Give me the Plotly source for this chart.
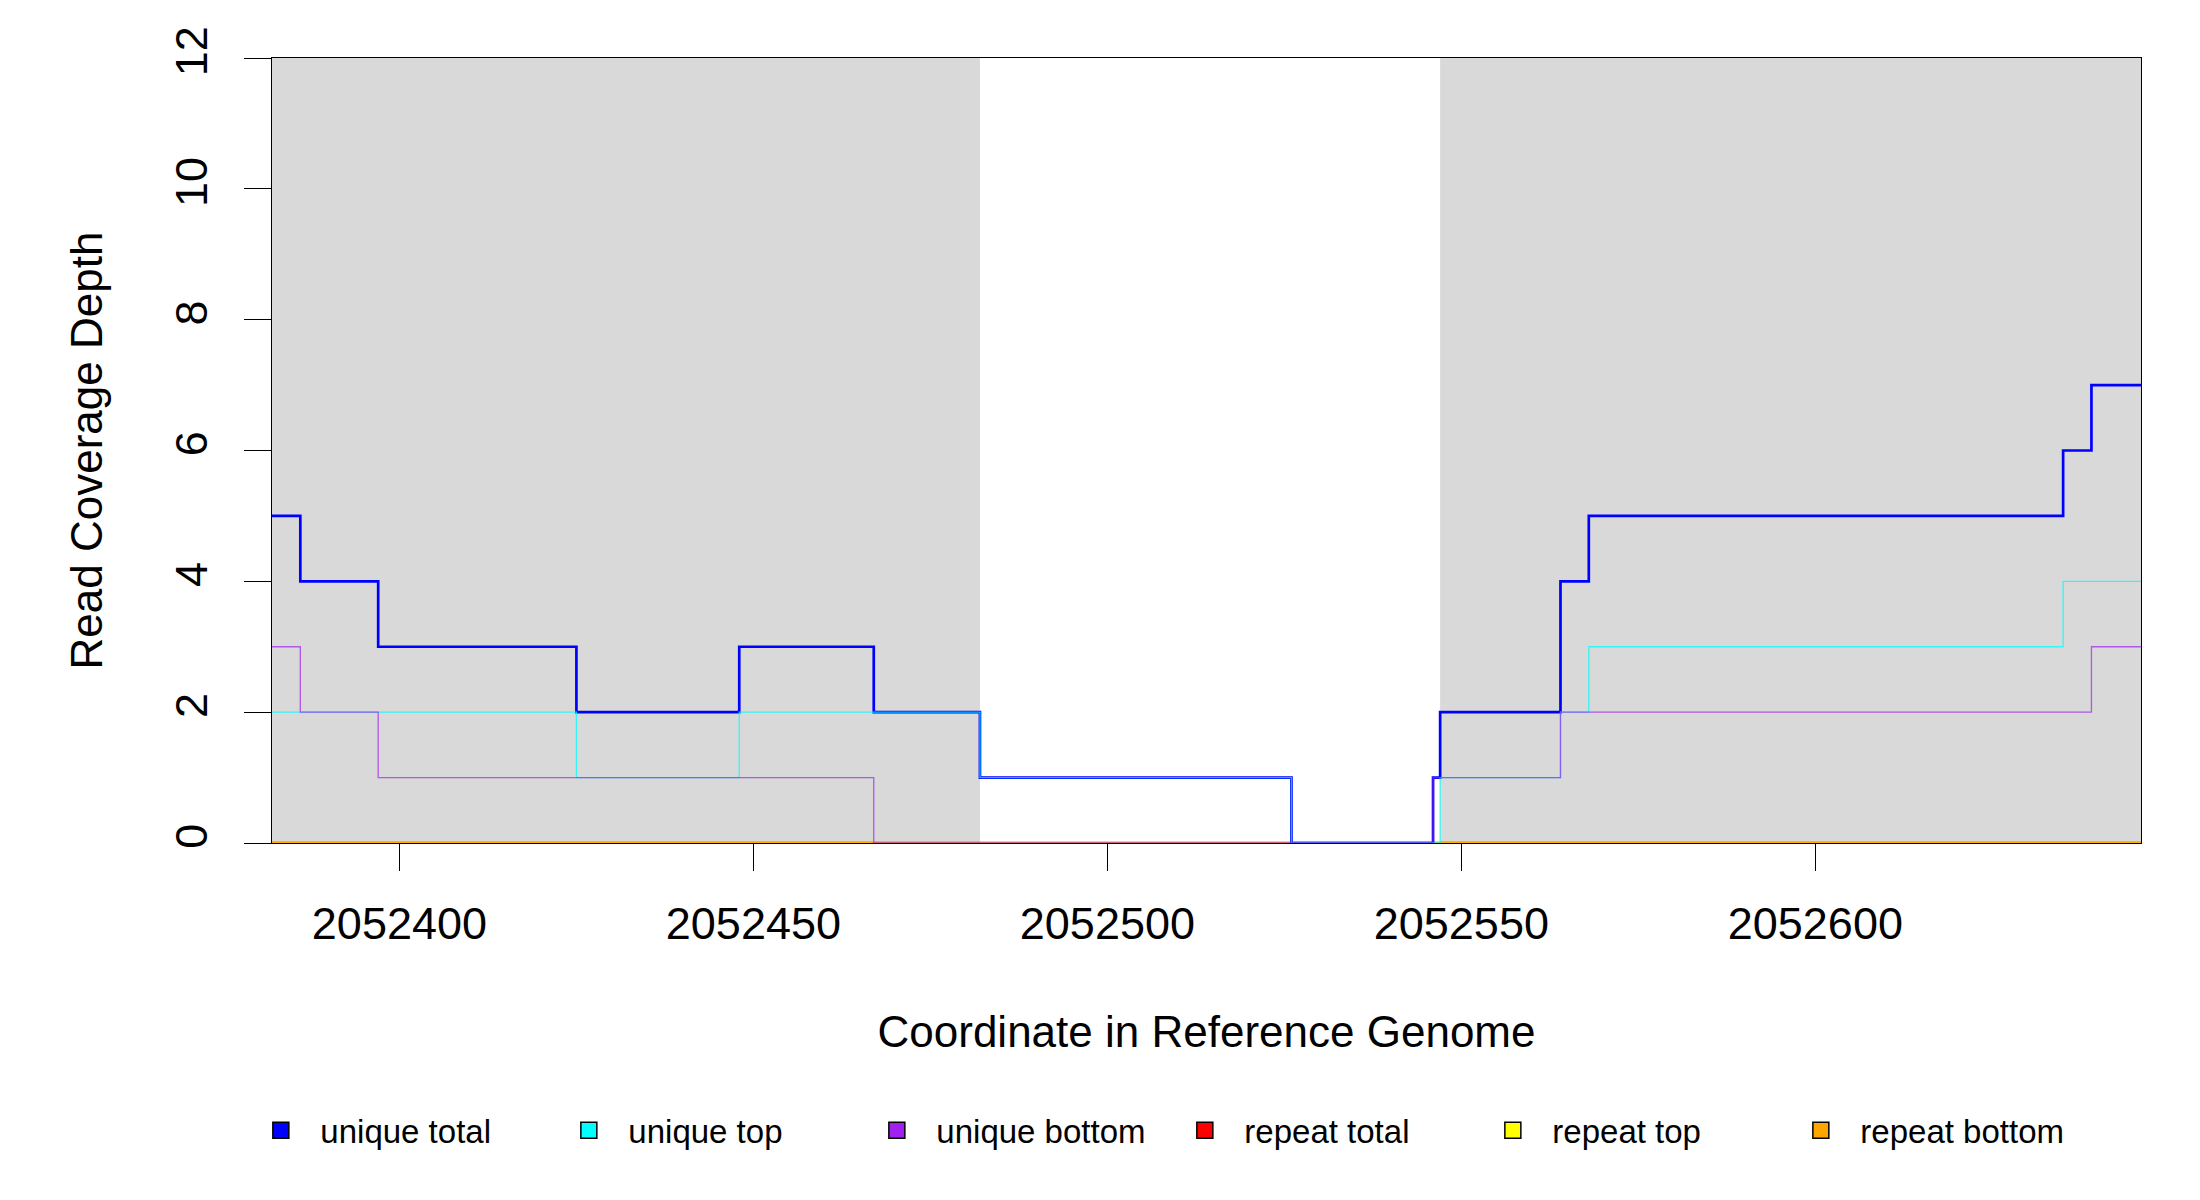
import plotly.graph_objects as go

# step breakpoints (coordinate where a new depth starts) and depth values
x_min, x_max = 2052382, 2052646

unique_total_x = [2052382, 2052386, 2052397, 2052425, 2052448, 2052467, 2052482,
                  2052526, 2052546, 2052547, 2052564, 2052568, 2052635, 2052639, 2052646]
unique_total_y = [5, 4, 3, 2, 3, 2, 1, 0, 1, 2, 4, 5, 6, 7, 7]

unique_top_x = [2052382, 2052425, 2052448, 2052482, 2052526, 2052547, 2052564,
                2052568, 2052635, 2052646]
unique_top_y = [2, 1, 2, 1, 0, 1, 2, 3, 4, 4]

unique_bottom_x = [2052382, 2052386, 2052397, 2052467, 2052546, 2052564, 2052639, 2052646]
unique_bottom_y = [3, 2, 1, 0, 1, 2, 3, 3]

repeat_x = [2052382, 2052646]
repeat_total_y = [0, 0]
repeat_top_y = [0, 0]
repeat_bottom_y = [0, 0]

# shaded (aligned) regions
region_start = [2052382, 2052547]
region_end = [2052482, 2052646]

x_ticks = [2052400, 2052450, 2052500, 2052550, 2052600]
y_ticks = [0, 2, 4, 6, 8, 10, 12]

names = ["unique total", "unique top", "unique bottom",
         "repeat total", "repeat top", "repeat bottom"]
colors = ["#0000FF", "#00FFFF", "#A020F0", "#FF0000", "#FFFF00", "#FFA500"]

FONT = "Liberation Sans, Arial, sans-serif"

fig = go.Figure()

for s, e in zip(region_start, region_end):
    fig.add_shape(type="rect", xref="x", yref="y", x0=s, x1=e, y0=0, y1=12,
                  fillcolor="#D9D9D9", line_width=0, layer="below")

# repeat series first, unique series drawn over them
series = [
    (repeat_x, repeat_total_y, colors[3], 2.7, 1.0),
    (repeat_x, repeat_top_y, colors[4], 1.3, 1.0),
    (repeat_x, repeat_bottom_y, colors[5], 1.3, 1.0),
    (unique_total_x, unique_total_y, colors[0], 2.7, 1.0),
    (unique_top_x, unique_top_y, colors[1], 1.3, 0.75),
    (unique_bottom_x, unique_bottom_y, colors[2], 1.3, 0.7),
]
for xs, ys, c, w, op in series:
    fig.add_trace(go.Scatter(x=xs, y=ys, mode="lines", line_shape="hv",
                             line=dict(color=c, width=w), opacity=op,
                             showlegend=False, hoverinfo="skip"))

# legend entries as filled squares
for n, c in zip(names, colors):
    fig.add_trace(go.Scatter(x=[None], y=[None], mode="markers", name=n,
                             marker=dict(symbol="square", size=16, color=c,
                                         line=dict(color="black", width=1.5))))

fig.update_layout(
    width=2200, height=1200,
    margin=dict(l=264, r=67, t=50, b=365),
    paper_bgcolor="white", plot_bgcolor="white",
    font=dict(family=FONT, size=45, color="black"),
    legend=dict(orientation="h", x=-0.0164, xanchor="left", y=-0.366, yanchor="middle",
                font=dict(size=33), entrywidth=224, entrywidthmode="pixels",
                itemwidth=69, bgcolor="rgba(0,0,0,0)"),
)

axis_style = dict(showline=True, linecolor="black", linewidth=1.3, mirror=True,
                  ticks="outside", ticklen=27, tickwidth=1.3, tickcolor="black",
                  showgrid=False, zeroline=False)

fig.update_xaxes(range=[x_min, x_max], tickvals=x_ticks,
                 ticktext=[str(v) for v in x_ticks], ticklabelstandoff=14,
                 title=dict(text="Coordinate in Reference Genome", standoff=68,
                            font=dict(size=44)),
                 **axis_style)
fig.update_yaxes(range=[0, 12], tickvals=y_ticks, tickangle=-90, ticklabelstandoff=19,
                 title=dict(text="Read Coverage Depth", standoff=49,
                            font=dict(size=44)),
                 **axis_style)

fig.write_html("out.html")
